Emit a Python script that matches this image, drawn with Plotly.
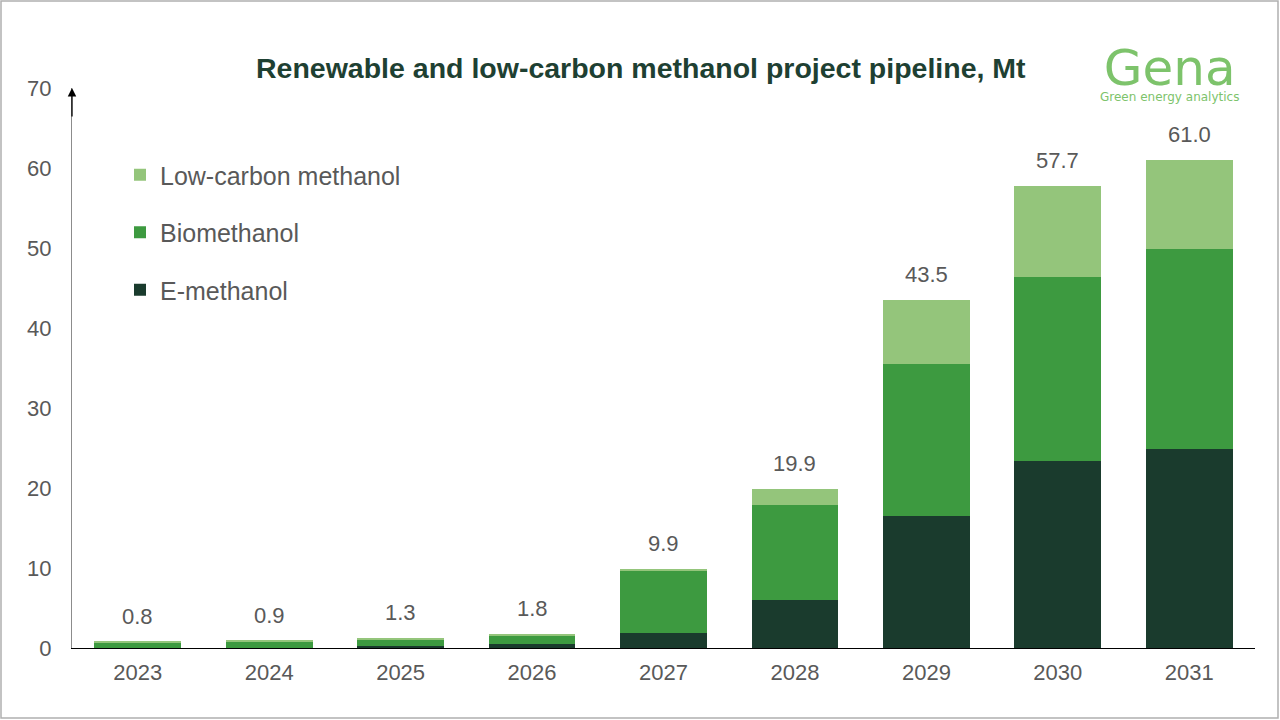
import plotly.graph_objects as go

years = ["2023", "2024", "2025", "2026", "2027", "2028", "2029", "2030", "2031"]
e_methanol = [0.05, 0.05, 0.3, 0.5, 1.9, 6.0, 16.5, 23.4, 24.9]
biomethanol = [0.65, 0.75, 0.8, 1.1, 7.7, 11.9, 19.0, 23.0, 25.0]
low_carbon = [0.1, 0.1, 0.2, 0.2, 0.3, 2.0, 8.0, 11.3, 11.1]
totals = [0.8, 0.9, 1.3, 1.8, 9.9, 19.9, 43.5, 57.7, 61.0]
total_labels = ["0.8", "0.9", "1.3", "1.8", "9.9", "19.9", "43.5", "57.7", "61.0"]

C_E = "#1a3b2d"
C_BIO = "#3d9a40"
C_LOW = "#94c57b"
GRAY = "#595959"
FONT = "Liberation Sans, Arial, sans-serif"

fig = go.Figure()
fig.add_trace(go.Bar(x=years, y=e_methanol, name="E-methanol", marker_color=C_E,
                     legendgroup="e", legendrank=3, marker_line_width=0))
fig.add_trace(go.Bar(x=years, y=biomethanol, name="Biomethanol", marker_color=C_BIO,
                     legendgroup="b", legendrank=2, marker_line_width=0))
fig.add_trace(go.Bar(x=years, y=low_carbon, name="Low-carbon methanol", marker_color=C_LOW,
                     legendgroup="l", legendrank=1, marker_line_width=0))

# total labels (category index positions on the category axis)
for i, (tot, lab) in enumerate(zip(totals, total_labels)):
    fig.add_annotation(x=i, xref="x", y=tot, yref="y", text=lab, showarrow=False,
                       yanchor="bottom", xanchor="center", yshift=11,
                       font=dict(size=22, color=GRAY, family=FONT))

# y-axis arrow head
fig.add_annotation(x=0, xref="paper", y=70, yref="y", ax=0, ay=30, text="",
                   showarrow=True, arrowhead=2, arrowsize=1.3, arrowwidth=1.3,
                   arrowcolor="#000000", standoff=0)

# title
fig.add_annotation(x=(641 - 72) / 1183, xref="paper", y=(648 - 68) / 560, yref="paper",
                   xanchor="center", yanchor="middle",
                   text="<b>Renewable and low-carbon methanol project pipeline, Mt</b>",
                   showarrow=False, font=dict(size=28.5, color="#1e4032", family=FONT))
# logo (one text block: big word + small tagline)
fig.add_annotation(x=(1169 - 72) / 1183, xref="paper", y=(648 - 106) / 560, yref="paper",
                   xanchor="center", yanchor="bottom", align="center",
                   text="<span style='font-size:50px'>Gena</span><br>Green energy analytics",
                   showarrow=False,
                   font=dict(size=12, color="#7dc36b", family="DejaVu Sans, sans-serif"))

# outer frame
fig.add_shape(type="rect", xref="paper", yref="paper",
              x0=(1 - 72) / 1183, x1=(1278 - 72) / 1183,
              y0=(648 - 718) / 560, y1=(648 - 1) / 560,
              line=dict(color="#b0b0b0", width=1.5), fillcolor="rgba(0,0,0,0)")

fig.update_layout(
    width=1280, height=720,
    margin=dict(l=72, r=25, t=88, b=72),
    barmode="stack", bargap=0.34,
    paper_bgcolor="white", plot_bgcolor="white",
    font=dict(family=FONT, color=GRAY, size=22),
    showlegend=True,
    legend=dict(x=(120 - 72) / 1183, y=(648 - 152) / 560, xanchor="left", yanchor="top",
                traceorder="grouped", tracegroupgap=22,
                font=dict(size=25, color=GRAY, family=FONT),
                itemwidth=30, bgcolor="rgba(0,0,0,0)"),
    xaxis=dict(type="category", range=[-0.5, len(years) - 0.5], showline=True,
               linecolor="#000000", linewidth=1, ticks="", ticklabelstandoff=5,
               tickfont=dict(size=22, color=GRAY), showgrid=False),
    yaxis=dict(range=[0, 70], dtick=10, showline=True, linecolor="#8c8c8c", linewidth=1.3,
               showgrid=False, zeroline=False, ticks="", ticklabelstandoff=15,
               tickfont=dict(size=22, color=GRAY)),
)

fig.write_html("out.html")
